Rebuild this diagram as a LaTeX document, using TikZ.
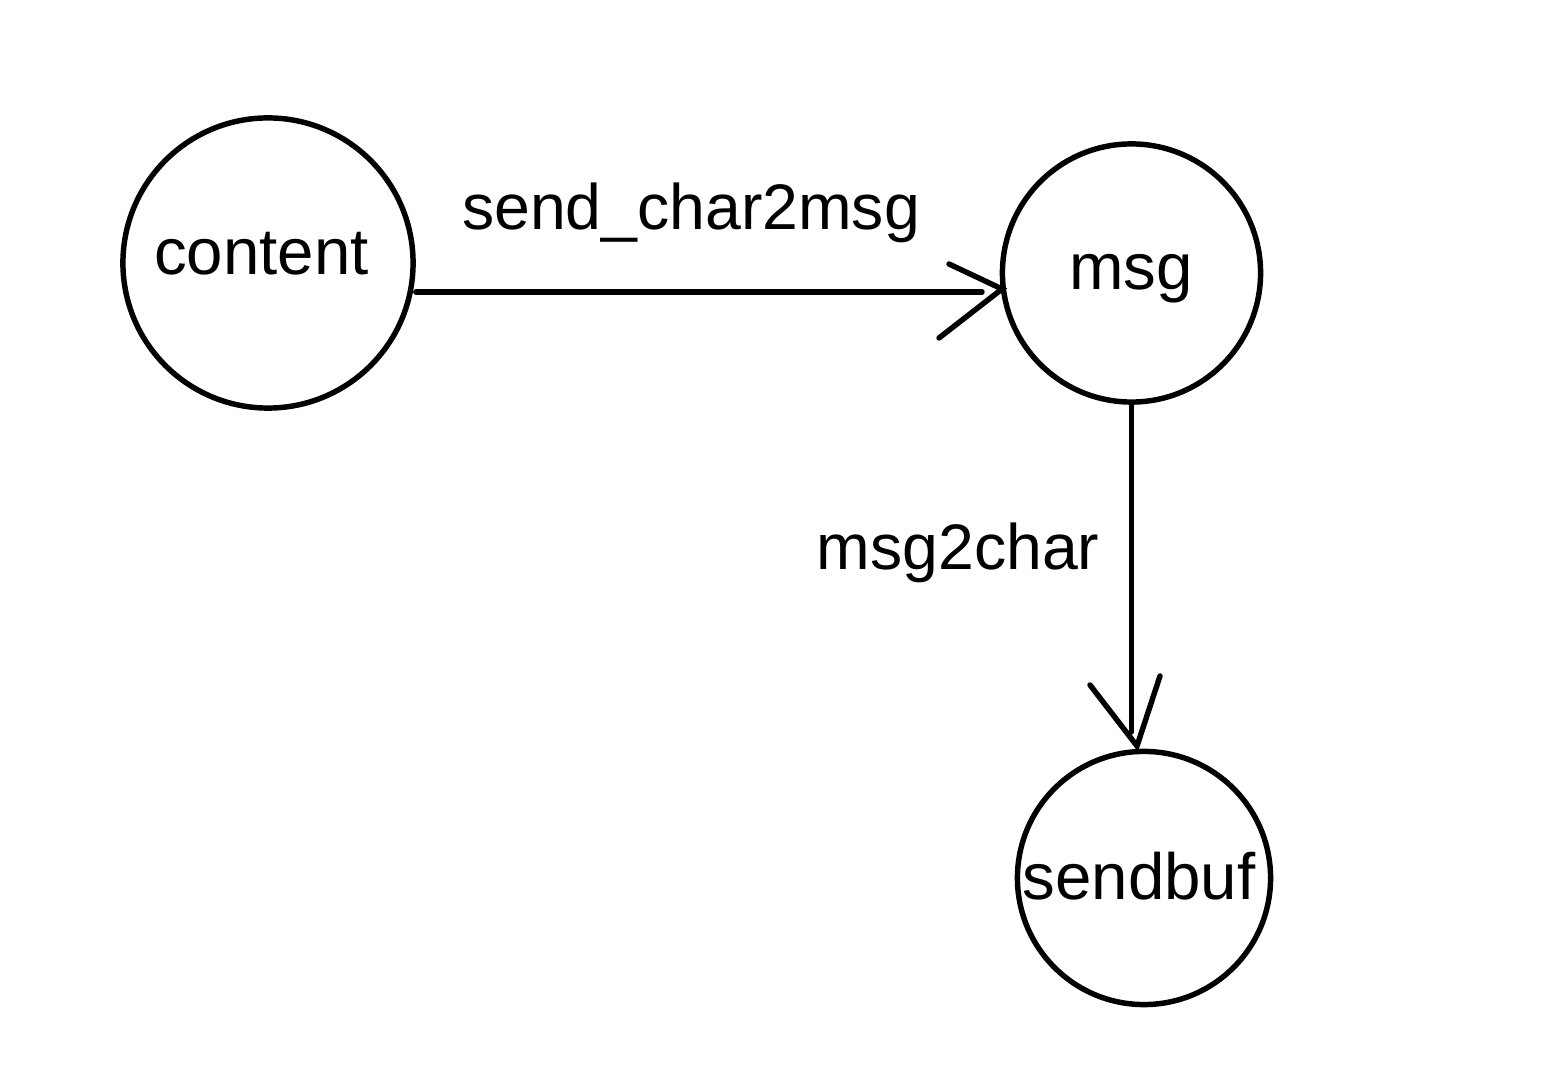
\documentclass[tikz,border=0pt]{standalone}
\usepackage{fontspec}
\setmainfont{Liberation Sans}
\begin{document}
\begin{tikzpicture}[x=0.01cm,y=-0.01cm,
  state/.style={circle,draw,line width=1.55pt,inner sep=0pt},
  stxt/.style={font=\fontsize{18.6}{20}\selectfont,inner sep=0pt,anchor=base},
  lbl/.style={font=\fontsize{18.3}{20}\selectfont,inner sep=0pt,anchor=base},
  conn/.style={line width=1.55pt,line cap=round}]
\useasboundingbox (0,0) rectangle (1548,1080);
\node[state,minimum size=2.9cm] (content) at (268,263) {};
\node[state,minimum size=2.58cm] (msg) at (1131.5,273) {};
\node[state,minimum size=2.53cm] (sendbuf) at (1144,878) {};
\node[stxt] (contentT) at (261.5,275) {content};
\node[stxt] (msgT) at (1131,290) {msg};
\node[stxt] (sendbufT) at (1139,900) {sendbuf};
% connector 1
\coordinate (t1) at (1002,289);
\coordinate (w1a) at (949,264);
\coordinate (w1b) at (939,338);
\coordinate (e1) at (982,292);
\draw[conn] (content.east |- e1) -- (e1);
\draw[conn] (w1a) -- (t1) -- (w1b);
% connector 2
\coordinate (t2) at (1137,746);
\coordinate (w2a) at (1090,685);
\coordinate (w2b) at (1160,676);
\coordinate (e2) at (1131.5,732);
\draw[conn] (msg.south) -- (e2);
\draw[conn] (w2a) -- (t2) -- (w2b);
\node[lbl] (l1) at (691,230) {send\_char2msg};
\node[lbl] (l2) at (958,570) {msg2char};
\end{tikzpicture}
\end{document}
